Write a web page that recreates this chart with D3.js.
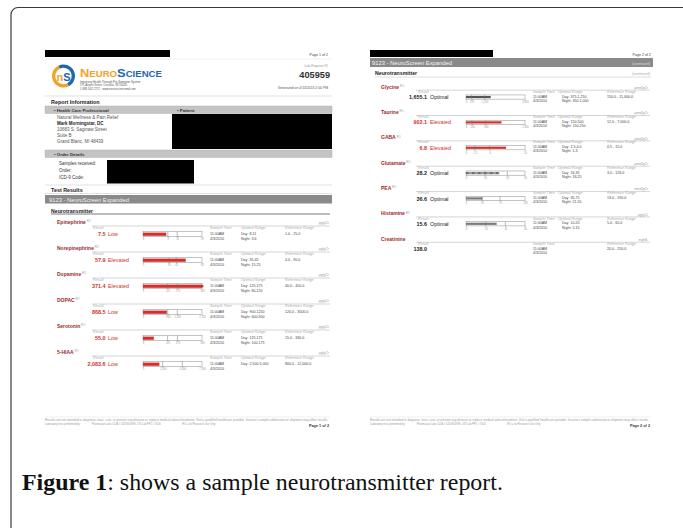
<!DOCTYPE html>
<html><head><meta charset="utf-8">
<script src="https://cdn.jsdelivr.net/npm/d3@7"></script>
<style>html,body{margin:0;padding:0;background:#fff;} svg{display:block;}</style>
</head><body><svg id="c" width="683" height="528"></svg>
<script>
// ---------- DATA ----------
const analytes = ["Epinephrine","Norepinephrine","Dopamine","DOPAC","Serotonin","5-HIAA","Glycine","Taurine","GABA","Glutamate","PEA","Histamine","Creatinine"];
const reportPage = [0,0,0,0,0,0,1,1,1,1,1,1,1];
const units = ["µg/gCr","µg/gCr","µg/gCr","µg/gCr","µg/gCr","µg/gCr","µmol/gCr","µmol/gCr","µmol/gCr","µmol/gCr","nmol/gCr","µg/gCr","mg/dL"];
const resultValues = [7.5,57.9,371.4,868.5,55.0,2083.6,1655.1,902.1,6.8,28.2,36.6,15.6,138.0];
const statuses = ["Low","Elevated","Elevated","Low","Low","Low","Optimal","Elevated","Elevated","Optimal","Optimal","Optimal",""];
const dayRanges = ["Day: 8-11","Day: 35-45","Day: 125-175","Day: 900-1250","Day: 125-175","Day: 2,500-5,000","Day: 375-1,250","Day: 150-500","Day: 1.5-4.0","Day: 16-35","Day: 35-75","Day: 10-20",""];
const nightRanges = ["Night: 3-6","Night: 15-25","Night: 80-120","Night: 600-900","Night: 100-175","","Night: 350-1,000","Night: 150-250","Night: 1-3","Night: 18-25","Night: 21-55","Night: 5-15",""];
const referenceRanges = ["1.0 - 25.0","4.0 - 90.0","40.0 - 450.0","120.0 - 3500.0","15.0 - 330.0","800.0 - 12,000.0","150.0 - 11,000.0","12.0 - 7,000.0","0.5 - 15.0","3.0 - 126.0","13.0 - 190.0","5.0 - 65.0","20.0 - 250.0"];
const gaugeTicks = [[0,8,11,19],[0,35,45,80],[0,125,175,300],[0,900,1250,2150],[0,125,175,300],[0,2500,5000,7500],[0,375,1250,3950],[0,150,500,1500],[0,1.5,4,10],[0,16,35,50],[0,35,75,130],[0,10,20,30],null];
const sampleTimes = ["11:00AM","4/3/2010"];
const headerLabels = ["Result","Sample Time","Optimal Range","Reference Range"];
const addressLines = ["Natural Wellness & Pain Relief","Mark Morningstar, DC","10683 S. Saginaw Street","Suite B","Grand Blanc, MI 48439"];
const orderLabels = ["Samples received:","Order:","ICD-9 Code:"];
const footerLines = ["Results are not intended to diagnose, treat, cure, or prevent any disease or replace medical advice/treatment. Visit a qualified healthcare provider. Incorrect sample submission or shipment may affect results.",
  "Laboratory tests performed by:                Pharmasan Labs CLIA # 52D0914999, 373 Lab PP1 # 7026                              RO = for Research Use Only"];
const captionBold = "Figure 1";
const captionRest = ": shows a sample neurotransmitter report.";

// ---------- LAYOUT ----------
const svg = d3.select("#c");
const SANS = "'Liberation Sans', Arial, sans-serif";
const RED = "#d3302c", NAMERED = "#9c2b2e";
svg.append("rect").attr("width",683).attr("height",528).attr("fill","#fff");
svg.append("rect").attr("x",11).attr("y",7.5).attr("width",720).attr("height",560).attr("rx",7)
  .attr("fill","none").attr("stroke","#3a3a3a").attr("stroke-width",1.2);

const pages = [
  {left:45,right:332,rowStart:222,rowStep:26,k:1,name:57,line0:92,line1:330,unit:329,result:93,numEnd:105.5,status:108,bar0:143,bar1:202,time:210,optLabel:241,opt:241,ref:285,fillH:3.2},
  {left:370,right:653,rowStart:86.8,rowStep:25.35,k:0.84,name:381,line0:416,line1:650,unit:648,result:418,numEnd:427,status:430,bar0:466,bar1:525,time:533,optLabel:558,opt:562,ref:607,fillH:2.2}
];

function txt(g, x, y, s, size, opt={}) {
  return g.append("text").attr("x",x).attr("y",y).text(s)
    .attr("font-family",SANS).attr("font-size",size)
    .attr("fill",opt.fill||"#333").attr("font-weight",opt.bold?"bold":"normal")
    .attr("font-style",opt.italic?"italic":"normal")
    .attr("text-anchor",opt.anchor||"start");
}
function hline(g,x0,x1,y,color,w){ g.append("line").attr("x1",x0).attr("x2",x1).attr("y1",y).attr("y2",y).attr("stroke",color).attr("stroke-width",w); }

const g = svg.append("g");

// ---- page 1 header ----
g.append("rect").attr("x",45).attr("y",50).attr("width",125).attr("height",7).attr("fill","#000");
txt(g,328,55.5,"Page 1 of 2",3.6,{anchor:"end",fill:"#444"});
hline(g,45,332,59,"#ddd",0.5);
// logo
const lg = g.append("g").attr("transform","translate(63.5,76)");
const arc = d3.arc().innerRadius(8.2).outerRadius(11.5);
lg.append("path").attr("d",arc({startAngle:-0.15*Math.PI,endAngle:0.85*Math.PI})).attr("fill","#1f68b0");
lg.append("path").attr("d",arc({startAngle:0.85*Math.PI,endAngle:1.85*Math.PI})).attr("fill","#f0a22a");
const mono = lg.append("text").attr("x",0).attr("y",4.5).attr("text-anchor","middle")
  .attr("font-family",SANS).attr("font-weight","bold").attr("font-size",11);
mono.append("tspan").text("n").attr("fill","#f0a22a");
mono.append("tspan").text("S").attr("fill","#1f68b0");
const brand = g.append("text").attr("x",80).attr("y",77.2).attr("font-family",SANS).attr("font-weight","bold")
  .attr("textLength",82).attr("lengthAdjust","spacingAndGlyphs");
brand.append("tspan").text("N").attr("font-size",11.5).attr("fill","#f0a22a");
brand.append("tspan").text("EURO").attr("font-size",8.6).attr("fill","#f0a22a");
brand.append("tspan").text("S").attr("font-size",11.5).attr("fill","#1f68b0");
brand.append("tspan").text("CIENCE").attr("font-size",8.6).attr("fill","#1f68b0");
txt(g,80,82.6,"Improving Health Through Pre-Symptom System",2.8,{fill:"#555"});
txt(g,80,86.0,"575 Airport Street, Osceola, WI 54020",2.8,{fill:"#555"});
txt(g,80,89.6,"1-888-342-7272  ·  www.neurosciencemd.com",2.8,{fill:"#555"});
txt(g,328,66.5,"Lab Request ID",3.4,{anchor:"end",fill:"#999"});
txt(g,330,77.5,"405959",9.2,{anchor:"end",bold:true,fill:"#333"});
txt(g,328,88.5,"Generated on 4/14/2013 2:00 PM",3.4,{anchor:"end",fill:"#555"});
hline(g,45,332,96,"#ccc",0.6);
txt(g,51,104,"Report Information",5.4,{bold:true,fill:"#222"});
g.append("rect").attr("x",45).attr("y",106).attr("width",287).attr("height",7.5).attr("fill","#c4c4c4").attr("stroke","#aaa").attr("stroke-width",0.4);
txt(g,54,111.5,"• Health Care Professional",4.4,{bold:true,fill:"#333"});
txt(g,177,111.5,"• Patient",4.4,{bold:true,fill:"#333"});
g.append("rect").attr("x",172).attr("y",114).attr("width",160).attr("height",35).attr("fill","#000");
addressLines.forEach((s,i)=>txt(g,57,119+i*6,s,4.5,{bold:i===1,fill:i===1?"#222":"#555"}));
g.append("rect").attr("x",45).attr("y",150).attr("width",287).attr("height",7.5).attr("fill","#c4c4c4").attr("stroke","#aaa").attr("stroke-width",0.4);
txt(g,54,155.5,"• Order Details",4.4,{bold:true,fill:"#333"});
g.append("rect").attr("x",107).attr("y",160).attr("width",87).attr("height",23.5).attr("fill","#000");
orderLabels.forEach((s,i)=>txt(g,59,165+i*7,s,4.5,{fill:"#333"}));
hline(g,45,332,185,"#ccc",0.6);
txt(g,51,191.5,"Test Results",5.4,{bold:true,fill:"#222"});
hline(g,45,332,193.5,"#ccc",0.6);
g.append("rect").attr("x",45).attr("y",195).attr("width",287).attr("height",8.5).attr("fill","#8a8a8a");
txt(g,49,201.5,"9123 - NeuroScreen Expanded",5.8,{fill:"#f4f4f4"});
txt(g,51,212.5,"Neurotransmitter",5.2,{bold:true,fill:"#222"});
hline(g,51,330,214,"#444",0.7);

// ---- page 2 header ----
g.append("rect").attr("x",370).attr("y",50).attr("width",123).attr("height",7).attr("fill","#000");
txt(g,651,55.5,"Page 2 of 2",3.6,{anchor:"end",fill:"#444"});
g.append("rect").attr("x",370).attr("y",58).attr("width",283).attr("height",9).attr("fill","#8a8a8a");
txt(g,372,65,"9123 - NeuroScreen Expanded",5.8,{fill:"#f4f4f4"});
txt(g,650,65,"(continued)",3.6,{anchor:"end",italic:true,fill:"#ddd"});
txt(g,375,75,"Neurotransmitter",5.2,{bold:true,fill:"#222"});
txt(g,650,75,"(continued)",3.6,{anchor:"end",italic:true,fill:"#aaa"});
hline(g,375,651,77,"#bbb",0.5);

// ---- footers ----
pages.forEach((p,pi)=>{
  hline(g,p.left,p.right-2,417,"#ddd",0.5);
  txt(g,p.left,420.5,footerLines[0],2.6,{fill:"#999"}).attr("textLength",p.right-p.left-4).attr("lengthAdjust","spacingAndGlyphs");
  txt(g,p.left,425,footerLines[1],2.6,{fill:"#999"}).style("white-space","pre");
  txt(g,p.right-3,426.5,`Page ${pi+1} of 2`,3.8,{anchor:"end",bold:true,fill:"#333"});
});

// ---- analyte rows ----
const fmt = d3.format(",.1f");
const rowIndexInPage = [0,0];
analytes.forEach((name,i)=>{
  const p = pages[reportPage[i]];
  const r = rowIndexInPage[reportPage[i]]++;
  const k = p.k;
  const yc = p.rowStart + r*p.rowStep;
  const rg = g.append("g");
  const nt = txt(rg,p.name,yc+1.8,name,5,{bold:true,fill:NAMERED});
  if (name !== "Creatinine") nt.append("tspan").text(" RO").attr("font-size",2.8).attr("font-weight","normal").attr("fill","#999").attr("dy",-1.6);
  txt(rg,p.unit,yc+2,units[i],3.4,{anchor:"end",italic:true,fill:"#999"});
  const ly = yc + 4*k;
  hline(rg,p.line0,p.line1,ly,"#aaa",0.5);
  const hx = [p.result,p.time,p.optLabel,p.ref];
  headerLabels.forEach((h,j)=>{
    if (!gaugeTicks[i] && j===2) return;
    txt(rg,hx[j],ly+2.6,h,3.7,{italic:true,fill:"#aaa"});
  });
  const isOut = statuses[i]==="Low"||statuses[i]==="Elevated";
  const vy = yc + 12.3*k + 2;
  txt(rg,p.numEnd,vy,fmt(resultValues[i]),5.4,{anchor:"end",bold:true,fill:isOut?RED:"#222"});
  if (statuses[i]) txt(rg,p.status,vy,statuses[i],5.4,{fill:isOut?RED:"#222"});
  // gauge
  const ticks = gaugeTicks[i];
  if (ticks) {
    const x = d3.scaleLinear().domain([0, ticks[ticks.length-1]]).range([p.bar0,p.bar1]).clamp(true);
    const by = yc + 9.7*k, bh = 5*k;
    rg.append("rect").attr("x",p.bar0).attr("y",by).attr("width",p.bar1-p.bar0).attr("height",bh)
      .attr("fill","#fff").attr("stroke","#8a8a8a").attr("stroke-width",0.5);
    const fc = isOut ? RED : (name==="Glycine" ? "#555" : "#7a7a7a");
    const fy = by + (bh - p.fillH)/2;
    if (name === "Glutamate") {
      rg.append("line").attr("x1",p.bar0).attr("x2",x(resultValues[i])).attr("y1",by+bh/2).attr("y2",by+bh/2)
        .attr("stroke","#333").attr("stroke-width",p.fillH).attr("stroke-dasharray","0.7,0.5");
    } else {
      rg.append("rect").attr("x",p.bar0).attr("y",fy).attr("width",x(resultValues[i])-p.bar0).attr("height",p.fillH).attr("fill",fc);
    }
    ticks.slice(1,-1).forEach(t=>{
      rg.append("line").attr("x1",x(t)).attr("x2",x(t)).attr("y1",by).attr("y2",by+bh).attr("stroke","#777").attr("stroke-width",0.5);
    });
    if (resultValues[i] > ticks[ticks.length-1]) {
      rg.append("circle").attr("cx",p.bar1).attr("cy",by+bh/2).attr("r",1.4).attr("fill",RED);
    }
    const ax = rg.append("g").attr("transform",`translate(0,${by+bh})`)
      .call(d3.axisBottom(x).tickValues(ticks).tickSize(1.3).tickPadding(0.6).tickFormat(d3.format(",")));
    ax.select(".domain").remove();
    ax.selectAll("line").attr("stroke","#888").attr("stroke-width",0.4);
    ax.selectAll("text").attr("font-size",2.6).attr("fill","#999").attr("font-family",SANS);
  }
  txt(rg,p.time,yc+11.3*k+1.3,sampleTimes[0],3.6,{fill:"#444"});
  txt(rg,p.time,yc+16.3*k+1.3,sampleTimes[1],3.6,{fill:"#444"});
  if (dayRanges[i]) txt(rg,p.opt,yc+11.3*k+1.3,dayRanges[i],3.6,{fill:"#444"});
  if (nightRanges[i]) txt(rg,p.opt,yc+16.3*k+1.3,nightRanges[i],3.6,{fill:"#444"});
  txt(rg,p.ref,yc+11.3*k+1.3,referenceRanges[i],3.6,{fill:"#444"});
});

// ---- caption ----
const cap = svg.append("text").attr("x",22).attr("y",490)
  .attr("font-family","'Liberation Serif','Times New Roman',serif").attr("font-size",20).attr("fill","#111");
cap.append("tspan").text(captionBold).attr("font-weight","bold");
cap.append("tspan").text(captionRest);
const w = cap.node().getComputedTextLength();
cap.attr("font-size", 20*481/w);
</script></body></html>
